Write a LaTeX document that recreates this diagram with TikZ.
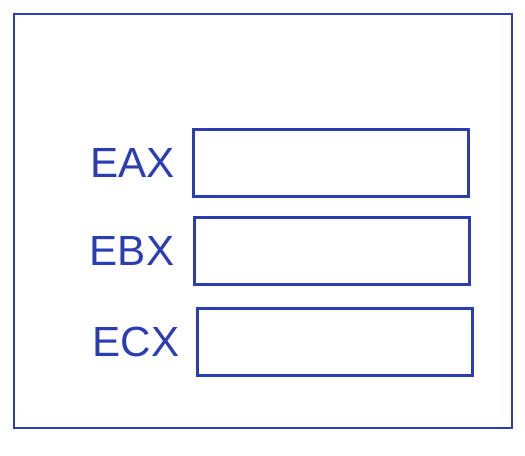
\documentclass[tikz,border=0pt]{standalone}
\usepackage{xcolor}
\usepackage{fontspec}
\setmainfont{Liberation Sans}
\usetikzlibrary{positioning}
\definecolor{penblue}{HTML}{2B3DB2}

\begin{document}
\begin{tikzpicture}[
  x=0.03cm, y=-0.03cm,
  frame/.style={rectangle, draw=penblue, line width=2.2pt, minimum width=14.94cm, minimum height=12.42cm},
  reg/.style={rectangle, draw=penblue, line width=2.2pt, minimum width=8.25cm, minimum height=2cm},
  reglabel/.style={text=penblue, font=\fontsize{36}{40}\selectfont, inner sep=0pt}
]
  \useasboundingbox (0,0) rectangle (525,456);

  % Outer frame
  \node[frame] (cpu) at (263,221) {};

  % Registers
  \node[reg] (eax) at (331,163) {};
  \node[reg] (ebx) at (332,251) {};
  \node[reg] (ecx) at (335,342) {};

  % Labels
  \node[reglabel, left=15pt of eax] (eaxlabel) {EAX};
  \node[reglabel, left=16pt of ebx] (ebxlabel) {EBX};
  \node[reglabel, left=14pt of ecx] (ecxlabel) {ECX};
\end{tikzpicture}
\end{document}
